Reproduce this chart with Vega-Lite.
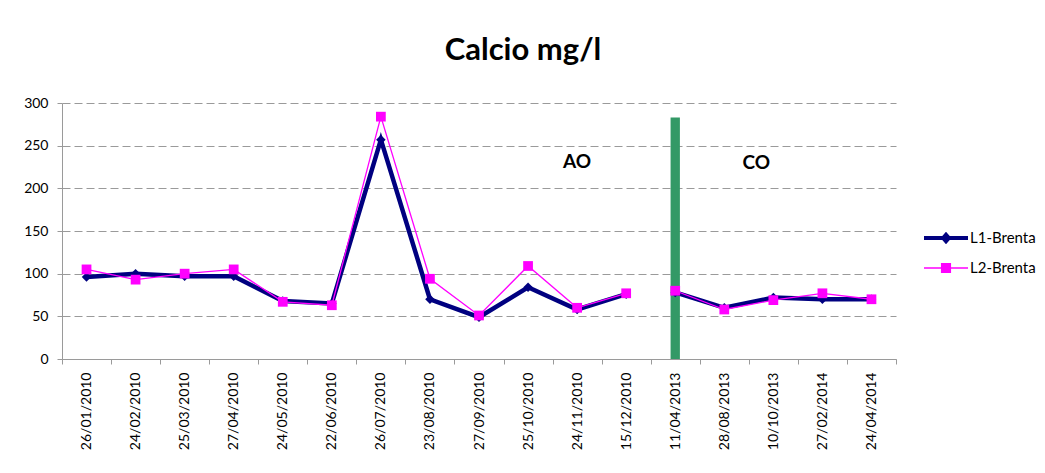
{
  "$schema": "https://vega.github.io/schema/vega-lite/v6.json",
  "width": 834,
  "height": 256,
  "autosize": {"type": "none"},
  "padding": {"left": 62, "top": 103, "right": 149, "bottom": 114},
  "background": "white",
  "title": {
    "text": "Calcio mg/l",
    "font": "Lato",
    "fontSize": 31,
    "fontWeight": "bold",
    "color": "#000000",
    "anchor": "middle",
    "frame": "group",
    "dx": 44,
    "offset": 29
  },
  "config": {
    "view": {"stroke": null},
    "axis": {
      "labelFont": "Lato",
      "labelFontSize": 14,
      "labelColor": "#000000",
      "domainColor": "#9a9a9a",
      "tickColor": "#9a9a9a",
      "tickSize": 5,
      "title": null
    }
  },
  "datasets": {
    "series": [
      {"date": "26/01/2010", "series": "L1-Brenta", "period": "AO", "value": 96},
      {"date": "24/02/2010", "series": "L1-Brenta", "period": "AO", "value": 100},
      {"date": "25/03/2010", "series": "L1-Brenta", "period": "AO", "value": 97},
      {"date": "27/04/2010", "series": "L1-Brenta", "period": "AO", "value": 97},
      {"date": "24/05/2010", "series": "L1-Brenta", "period": "AO", "value": 68},
      {"date": "22/06/2010", "series": "L1-Brenta", "period": "AO", "value": 65},
      {"date": "26/07/2010", "series": "L1-Brenta", "period": "AO", "value": 257},
      {"date": "23/08/2010", "series": "L1-Brenta", "period": "AO", "value": 70},
      {"date": "27/09/2010", "series": "L1-Brenta", "period": "AO", "value": 49},
      {"date": "25/10/2010", "series": "L1-Brenta", "period": "AO", "value": 84},
      {"date": "24/11/2010", "series": "L1-Brenta", "period": "AO", "value": 58},
      {"date": "15/12/2010", "series": "L1-Brenta", "period": "AO", "value": 76},
      {"date": "11/04/2013", "series": "L1-Brenta", "period": "CO", "value": 78},
      {"date": "28/08/2013", "series": "L1-Brenta", "period": "CO", "value": 60},
      {"date": "10/10/2013", "series": "L1-Brenta", "period": "CO", "value": 72},
      {"date": "27/02/2014", "series": "L1-Brenta", "period": "CO", "value": 70},
      {"date": "24/04/2014", "series": "L1-Brenta", "period": "CO", "value": 70},
      {"date": "26/01/2010", "series": "L2-Brenta", "period": "AO", "value": 105},
      {"date": "24/02/2010", "series": "L2-Brenta", "period": "AO", "value": 93},
      {"date": "25/03/2010", "series": "L2-Brenta", "period": "AO", "value": 100},
      {"date": "27/04/2010", "series": "L2-Brenta", "period": "AO", "value": 105},
      {"date": "24/05/2010", "series": "L2-Brenta", "period": "AO", "value": 67},
      {"date": "22/06/2010", "series": "L2-Brenta", "period": "AO", "value": 63},
      {"date": "26/07/2010", "series": "L2-Brenta", "period": "AO", "value": 284},
      {"date": "23/08/2010", "series": "L2-Brenta", "period": "AO", "value": 94},
      {"date": "27/09/2010", "series": "L2-Brenta", "period": "AO", "value": 51},
      {"date": "25/10/2010", "series": "L2-Brenta", "period": "AO", "value": 109},
      {"date": "24/11/2010", "series": "L2-Brenta", "period": "AO", "value": 60},
      {"date": "15/12/2010", "series": "L2-Brenta", "period": "AO", "value": 77},
      {"date": "11/04/2013", "series": "L2-Brenta", "period": "CO", "value": 80},
      {"date": "28/08/2013", "series": "L2-Brenta", "period": "CO", "value": 58},
      {"date": "10/10/2013", "series": "L2-Brenta", "period": "CO", "value": 69},
      {"date": "27/02/2014", "series": "L2-Brenta", "period": "CO", "value": 77},
      {"date": "24/04/2014", "series": "L2-Brenta", "period": "CO", "value": 70}
    ],
    "divider": [
      {"date": "11/04/2013", "value": 283}
    ],
    "labels": [
      {"date": "24/11/2010", "value": 231, "label": "AO"},
      {"date": "10/10/2013", "value": 230, "label": "CO"}
    ]
  },
  "encoding": {
    "x": {
      "field": "date",
      "type": "nominal",
      "sort": null,
      "scale": {
        "type": "band",
        "paddingInner": 0,
        "paddingOuter": 0,
        "domain": ["26/01/2010", "24/02/2010", "25/03/2010", "27/04/2010", "24/05/2010", "22/06/2010", "26/07/2010", "23/08/2010", "27/09/2010", "25/10/2010", "24/11/2010", "15/12/2010", "11/04/2013", "28/08/2013", "10/10/2013", "27/02/2014", "24/04/2014"]
      },
      "axis": {
        "labelAngle": -90,
        "tickBand": "extent",
        "labelPadding": 8,
        "grid": false
      }
    },
    "y": {
      "field": "value",
      "type": "quantitative",
      "scale": {"domain": [0, 300], "nice": false},
      "axis": {
        "values": [0, 50, 100, 150, 200, 250, 300],
        "grid": true,
        "gridColor": "#9a9a9a",
        "gridDash": [8, 4],
        "labelPadding": 9
      }
    }
  },
  "layer": [
    {
      "data": {"name": "divider"},
      "mark": {"type": "bar", "color": "#339966", "width": {"band": 0.19}}
    },
    {
      "data": {"name": "series"},
      "transform": [{"filter": "datum.series === 'L1-Brenta'"}],
      "mark": {"type": "line", "strokeWidth": 4.5},
      "encoding": {
        "color": {
          "field": "series",
          "type": "nominal",
          "scale": {"domain": ["L1-Brenta", "L2-Brenta"], "range": ["#000080", "#FF00FF"]},
          "legend": {
            "orient": "none",
            "legendX": 862,
            "legendY": 113,
            "title": null,
            "labelFont": "Lato",
            "labelFontSize": 15,
            "labelColor": "#000000",
            "labelOffset": 2,
            "symbolSize": 1936,
            "rowPadding": -10,
            "encode": {
              "symbols": {
                "update": {
                  "shape": {"signal": "datum.value === 'L1-Brenta' ? 'M-1,-0.09H1V0.09H-1Z M0,-0.28L0.25,0L0,0.28L-0.25,0Z' : 'M-1,-0.035H1V0.035H-1Z M-0.23,-0.23H0.23V0.23H-0.23Z'"},
                  "fill": {"signal": "datum.value === 'L1-Brenta' ? '#000080' : '#FF00FF'"},
                  "stroke": {"value": "transparent"},
                  "strokeWidth": {"value": 0},
                  "size": {"value": 1936},
                  "opacity": {"value": 1}
                }
              }
            }
          }
        },
        "detail": {"field": "period", "type": "nominal"}
      }
    },
    {
      "data": {"name": "series"},
      "transform": [{"filter": "datum.series === 'L1-Brenta'"}],
      "mark": {"type": "point", "filled": true, "opacity": 1, "shape": "diamond", "size": 90},
      "encoding": {
        "color": {"field": "series", "type": "nominal"}
      }
    },
    {
      "data": {"name": "series"},
      "transform": [{"filter": "datum.series === 'L2-Brenta'"}],
      "mark": {"type": "line", "strokeWidth": 1.3},
      "encoding": {
        "color": {"field": "series", "type": "nominal"},
        "detail": {"field": "period", "type": "nominal"}
      }
    },
    {
      "data": {"name": "series"},
      "transform": [{"filter": "datum.series === 'L2-Brenta'"}],
      "mark": {"type": "point", "filled": true, "opacity": 1, "shape": "square", "size": 95},
      "encoding": {
        "color": {"field": "series", "type": "nominal"}
      }
    },
    {
      "data": {"name": "labels"},
      "transform": [{"filter": "datum.label === 'AO'"}],
      "mark": {"type": "text", "font": "Lato", "fontSize": 19, "fontWeight": "bold", "color": "#000000", "baseline": "middle", "align": "center"},
      "encoding": {"text": {"field": "label"}}
    },
    {
      "data": {"name": "labels"},
      "transform": [{"filter": "datum.label === 'CO'"}],
      "mark": {"type": "text", "font": "Lato", "fontSize": 19, "fontWeight": "bold", "color": "#000000", "baseline": "middle", "align": "center", "dx": -17},
      "encoding": {"text": {"field": "label"}}
    }
  ]
}
